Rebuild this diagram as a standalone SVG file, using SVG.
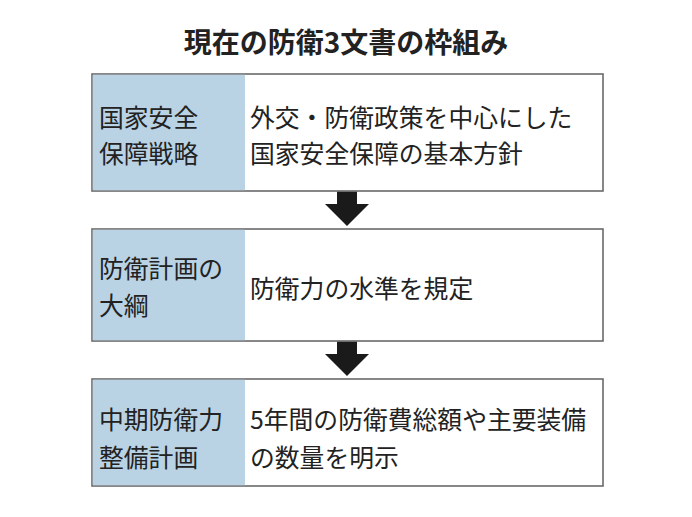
<svg xmlns="http://www.w3.org/2000/svg" width="692" height="517" viewBox="0 0 692 517">
<style>
.t{font-family:"Noto Sans CJK JP","Noto Sans CJK SC",sans-serif;fill:#222;font-size:24.8px}
.title{font-family:"Noto Sans CJK JP","Noto Sans CJK SC",sans-serif;fill:#222;font-size:28px;font-weight:bold}
.box{fill:#fff;stroke:#6a6a6a;stroke-width:1.6}
.lab{fill:#b9d3e5}
.arr{fill:#1a1a1a}
</style>
<rect width="692" height="517" fill="#fff"/>
<text class="title" x="346" y="53" text-anchor="middle">現在の防衛3文書の枠組み</text>
<g id="node1">
<rect class="box" x="92" y="74" width="511" height="117"/>
<rect class="lab" x="92.8" y="74.8" width="152.2" height="115.4"/>
<text class="t" x="99" y="126.5">国家安全</text>
<text class="t" x="99" y="162.5">保障戦略</text>
<text class="t" x="250" y="126.5">外交・防衛政策を中心にした</text>
<text class="t" x="250" y="162.5">国家安全保障の基本方針</text>
</g>
<g id="node2">
<rect class="box" x="92" y="229" width="511" height="112"/>
<rect class="lab" x="92.8" y="229.8" width="152.2" height="110.4"/>
<text class="t" x="99" y="277.5">防衛計画の</text>
<text class="t" x="99" y="314.5">大綱</text>
<text class="t" x="250" y="298">防衛力の水準を規定</text>
</g>
<g id="node3">
<rect class="box" x="92" y="379" width="511" height="107"/>
<rect class="lab" x="92.8" y="379.8" width="152.2" height="105.4"/>
<text class="t" x="99" y="428.5">中期防衛力</text>
<text class="t" x="99" y="467">整備計画</text>
<text class="t" x="250" y="428.5">5年間の防衛費総額や主要装備</text>
<text class="t" x="250" y="467">の数量を明示</text>
</g>
<g id="connectors">
<polygon class="arr" points="337,191.8 357,191.8 357,204 369,204 347,226 325,204 337,204"/>
<polygon class="arr" points="337,341.8 357,341.8 357,354 369,354 347,376 325,354 337,354"/>
</g>
</svg>
